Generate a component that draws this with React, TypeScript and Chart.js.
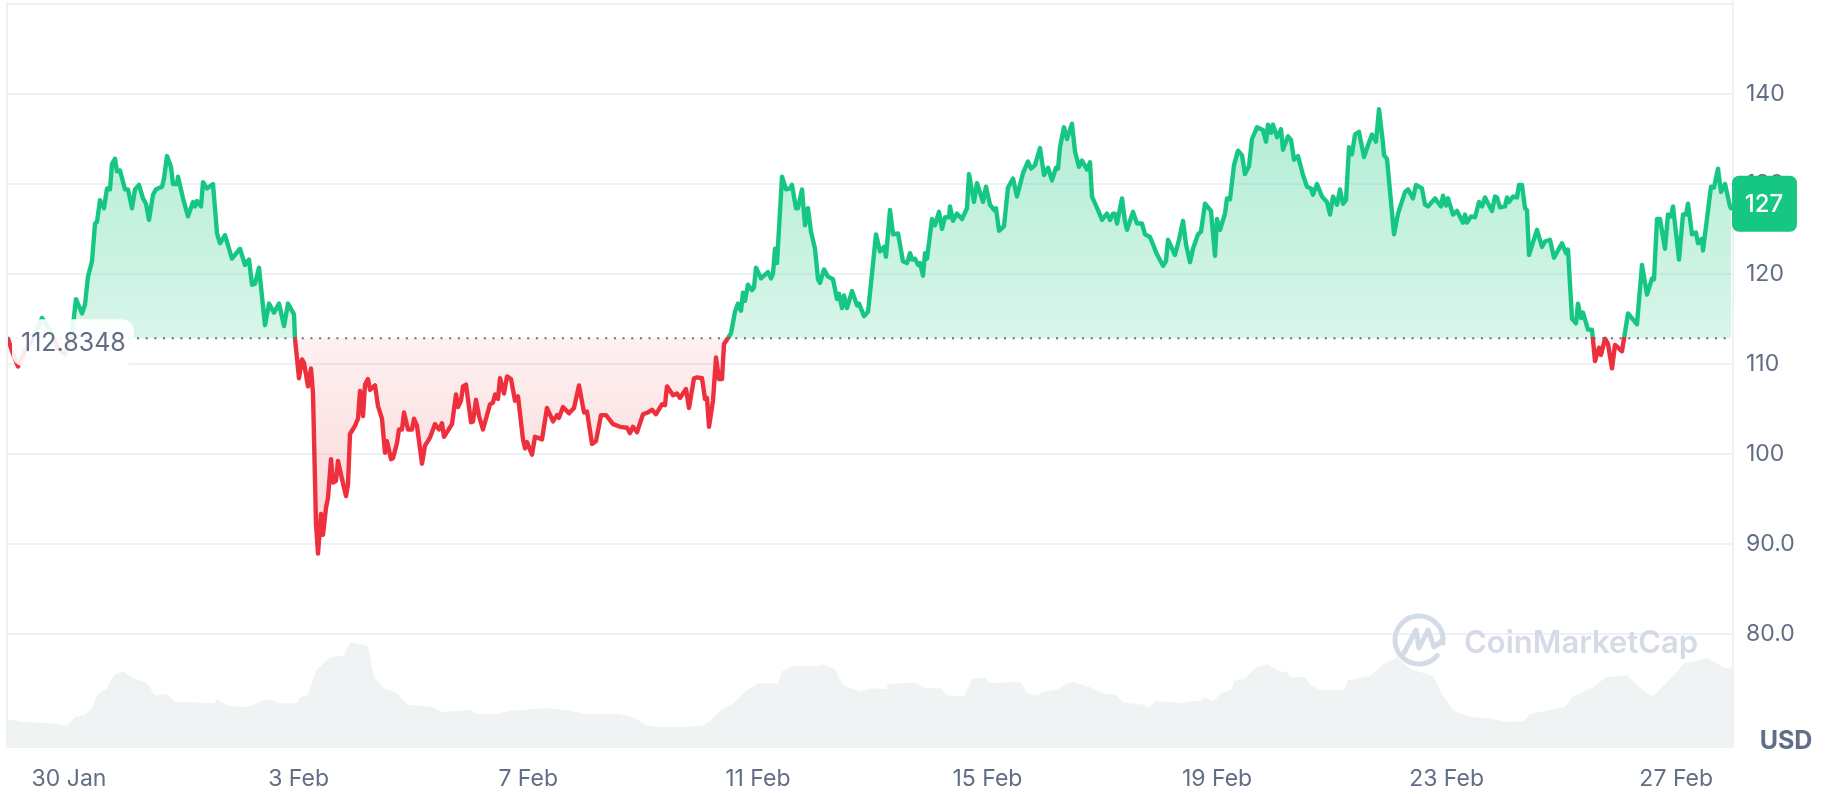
import React, { useEffect, useRef } from "react";
import { Chart, registerables } from "chart.js";

Chart.register(...registerables);

// Time runs in sample steps of about 25 minutes (57.4 steps per day).
const sampleSteps = [
  1, 5, 11, 18, 26, 35, 43, 51, 58, 65, 69, 75, 78, 81, 85, 88, 90, 93, 97, 100, 103, 105, 108, 110, 113, 118, 121, 125, 128, 132, 136, 139, 142, 146, 149, 155, 157, 160, 164, 166, 170, 171, 176, 181, 186, 188, 190, 194, 196, 200, 206, 210, 213, 218, 225, 233, 238, 242, 245, 248, 252, 258, 262, 267, 272, 277, 281, 287, 288,
  292, 295, 297, 301, 304, 306, 309, 311, 314, 316, 319, 321, 324, 326, 329, 331, 335, 339, 341, 343, 348, 351, 353, 356, 358, 361, 363, 368, 371, 375, 378, 380, 384, 386, 390, 392, 395, 397, 401, 405, 407, 410, 415, 418, 423, 428, 432, 435, 437, 445, 449, 451, 454, 456, 459, 464, 466, 469, 472, 476, 483, 486, 488, 491, 493, 497, 500, 504, 508, 511, 516, 518, 520, 525, 528, 535, 540, 546, 550, 552, 556, 562, 567, 572, 577, 580, 585, 589, 594, 599, 606, 613, 620, 623, 626, 630, 636, 641, 645, 649, 655, 658, 660, 666, 670, 673, 679, 682, 687, 690, 695, 698, 700, 702, 706, 709, 712, 715, 717, 720,
  724, 728, 731, 734, 736, 738, 741, 745, 747, 749, 754, 759, 761, 764, 766, 768, 770, 775, 779, 783, 785, 789, 791, 795, 798, 801, 804, 808, 811, 813, 817, 821, 826, 830, 832, 835, 837, 840, 845, 850, 852, 857, 861, 865, 869, 873, 877, 879, 883, 886, 891, 896, 900, 903, 905, 908, 911, 913, 916, 918, 920, 925, 928, 932, 935, 938, 942, 943, 946, 950, 955, 960, 962, 967, 970, 976, 979, 983, 987, 989, 992, 997, 1001, 1006, 1010, 1016, 1021, 1024, 1028, 1033, 1037, 1041, 1045, 1049, 1051, 1053, 1057, 1060, 1065, 1068, 1072, 1075, 1080, 1083, 1085, 1091, 1095, 1100, 1103, 1106, 1108, 1110, 1115, 1118, 1120, 1126, 1130, 1135, 1138, 1143, 1146, 1149, 1156, 1159, 1161, 1168, 1172, 1176, 1179, 1183, 1186, 1191, 1194, 1198, 1204, 1208, 1210, 1213, 1218, 1220, 1223, 1227, 1231, 1235, 1238, 1242, 1245, 1250, 1256, 1259, 1261, 1264, 1266, 1270, 1274, 1276, 1281, 1284, 1287, 1291, 1296, 1300, 1304, 1306, 1310, 1315, 1320, 1323, 1326, 1330, 1333, 1336, 1339, 1342, 1345, 1348, 1352, 1357, 1361, 1365, 1369, 1372, 1376, 1377, 1380, 1387, 1391, 1398, 1401, 1406, 1409, 1415, 1418, 1421, 1428, 1434, 1436, 1439, 1441, 1446, 1450, 1456, 1458, 1460, 1464, 1468, 1472, 1475, 1478, 1485, 1488, 1490, 1493, 1498, 1500, 1502, 1506, 1510, 1512, 1515, 1518, 1520, 1522, 1530, 1535, 1538, 1543, 1547, 1555, 1559, 1561, 1565, 1569, 1571, 1574, 1576, 1581, 1585, 1588, 1592, 1594, 1598, 1601, 1605, 1608, 1615, 1617, 1621, 1630, 1635, 1640, 1645, 1647, 1650, 1653, 1658, 1661, 1664, 1666, 1672, 1676, 1679, 1681, 1685, 1689, 1691, 1695, 1696, 1704, 1707, 1711, 1714, 1718, 1723, 1724,
];

const prices = [
  112.8, 111.4, 109.7, 111.4, 112.8, 115.1, 113.8, 111.7, 111.1, 113.3, 117.2, 115.6, 116.6, 119.7, 121.4, 125.6, 125.8, 128.2, 127.3, 129.5, 129.4, 132.2, 132.8, 131.4, 131.5, 129.4, 129.4, 127.3, 129.4, 129.9, 128.4, 127.8, 126.0, 128.8, 129.4, 129.7, 130.6, 133.1, 131.9, 130.0, 130.0, 130.8, 128.4, 126.4, 128.0, 127.5, 128.1, 127.5, 130.2, 129.5, 130.0, 124.5, 123.4, 124.3, 121.7, 122.8, 121.0, 121.6, 118.8, 118.9, 120.7, 114.3, 116.7, 115.7, 116.7, 114.2, 116.7, 115.5, 112.8,
  108.4, 110.5, 110.1, 107.5, 109.5, 106.7, 92.2, 88.9, 93.3, 91.0, 94.0, 95.1, 99.4, 96.8, 97.0, 99.2, 97.2, 95.3, 96.6, 102.2, 103.1, 103.9, 107.0, 104.2, 107.7, 108.3, 107.1, 107.6, 105.3, 103.9, 100.1, 101.4, 99.4, 99.5, 101.2, 102.7, 102.7, 104.6, 102.7, 102.7, 103.9, 103.1, 98.9, 100.9, 101.8, 103.3, 102.7, 103.4, 101.9, 103.3, 106.6, 105.2, 105.9, 107.5, 107.7, 103.5, 103.6, 106.0, 104.2, 102.7, 105.5, 105.7, 106.6, 106.1, 108.4, 106.7, 108.6, 108.3, 105.9, 106.4, 101.6, 100.6, 101.3, 99.9, 101.9, 101.6, 105.1, 103.6, 104.3, 104.0, 105.2, 104.5, 105.1, 107.6, 104.6, 104.7, 101.1, 101.4, 104.3, 104.3, 103.3, 103.0, 102.9, 102.3, 103.0, 102.4, 104.4, 104.6, 104.9, 104.4, 105.5, 105.4, 107.5, 106.5, 106.7, 106.2, 107.2, 105.1, 108.4, 108.5, 108.4, 106.1, 106.2, 103.0, 105.9, 110.7, 108.3, 108.3, 112.2, 112.7,
  113.4, 115.8, 116.7, 115.9, 117.9, 117.0, 118.8, 118.2, 118.5, 120.7, 119.5, 120.0, 120.2, 119.5, 120.0, 122.8, 121.2, 130.8, 129.4, 129.5, 129.9, 127.3, 127.3, 129.4, 125.4, 127.3, 124.7, 122.8, 119.4, 119.0, 120.5, 119.7, 119.4, 117.2, 117.8, 116.2, 117.6, 116.2, 118.1, 116.5, 116.7, 115.3, 115.8, 120.0, 124.4, 122.5, 123.0, 121.9, 127.1, 124.4, 124.5, 121.4, 121.2, 122.3, 121.6, 121.7, 121.0, 121.2, 119.8, 122.3, 121.7, 126.1, 125.4, 126.9, 125.0, 126.3, 126.3, 127.5, 125.9, 126.7, 126.1, 127.3, 131.1, 128.0, 130.1, 128.0, 129.7, 127.7, 127.1, 127.3, 124.8, 125.3, 129.6, 130.6, 128.6, 131.2, 132.5, 131.7, 132.1, 134.0, 131.0, 131.8, 130.4, 131.8, 131.7, 134.1, 136.3, 135.0, 136.7, 133.6, 131.9, 132.6, 131.6, 132.4, 128.6, 127.1, 126.0, 126.7, 126.0, 126.7, 126.7, 125.6, 128.4, 125.8, 124.9, 126.9, 125.6, 125.6, 124.4, 124.1, 123.3, 122.4, 120.9, 121.4, 123.8, 122.1, 123.8, 125.9, 123.3, 121.3, 122.8, 124.4, 124.7, 127.8, 127.0, 122.0, 126.1, 124.9, 126.7, 128.4, 128.3, 132.1, 133.7, 133.2, 131.1, 132.0, 135.0, 136.3, 136.0, 134.7, 136.6, 135.7, 136.6, 135.2, 136.1, 133.8, 135.3, 134.9, 132.7, 133.1, 131.0, 129.7, 129.5, 128.8, 130.0, 128.6, 128.0, 126.6, 128.6, 127.7, 129.4, 127.8, 128.2, 134.1, 133.3, 135.5, 135.8, 133.0, 134.3, 135.5, 134.7, 138.3, 134.5, 133.2, 132.8, 124.4, 126.7, 129.1, 129.4, 128.4, 129.9, 129.5, 127.7, 127.5, 128.4, 127.5, 128.7, 127.6, 128.4, 126.6, 127.0, 125.7, 126.6, 125.7, 126.4, 126.3, 128.0, 127.5, 128.5, 127.0, 128.6, 128.5, 127.4, 127.5, 128.5, 128.0, 128.6, 128.5, 129.9, 129.9, 127.3, 127.1, 122.1, 124.9, 123.0, 123.6, 123.8, 121.8, 123.4, 122.3, 122.7, 115.0, 114.5, 116.7, 115.1, 115.7, 113.8, 113.8, 110.3, 111.8, 111.0, 112.8, 112.2, 109.5, 112.1, 111.4, 112.8, 115.6, 114.4, 121.0, 117.7, 119.5, 119.4, 126.1, 126.1, 122.8, 126.6, 126.4, 127.5, 121.6, 126.6, 126.6, 127.8, 124.4, 124.6, 123.4, 123.9, 122.6, 129.7, 129.6, 131.7, 129.1, 130.0, 127.5, 127.3,
];

const volumeSteps = [
  0, 15, 38, 51, 60, 68, 78, 85, 90, 100, 107, 116, 125, 140, 148, 160, 169, 183, 207, 210, 221, 239, 250, 259, 266, 270, 290, 293, 301, 309, 323, 337, 343, 361, 367, 377, 390, 401, 426, 435, 464, 470, 489, 502, 538, 564, 578, 611, 625, 640, 651, 681, 697, 704, 714, 726, 740, 751, 771, 775, 785, 812, 816, 828, 836, 853, 865, 879, 881, 908, 918, 934, 940, 957, 965, 979, 981, 993, 999, 1014, 1020, 1028, 1040, 1051, 1059, 1067, 1083, 1095, 1110, 1116, 1138, 1142, 1148, 1169, 1173, 1183, 1193, 1197, 1206, 1214, 1224, 1227, 1238, 1249, 1261, 1273, 1281, 1283, 1298, 1304, 1313, 1337, 1341, 1363, 1375, 1390, 1402, 1426, 1436, 1446, 1463, 1480, 1500, 1516, 1523, 1558, 1565, 1586, 1599, 1620, 1633, 1643, 1647, 1664, 1677, 1701, 1718, 1725,
];

const volumes = [
  28, 25, 24, 23, 21, 30, 32, 39, 52, 59, 72, 76, 70, 64, 52, 53, 45, 45, 44, 48, 41, 40, 44, 48, 47, 44, 44, 50, 52, 77, 90, 92, 105, 101, 70, 59, 54, 42, 40, 35, 37, 33, 33, 36, 39, 36, 33, 33, 30, 22, 20, 20, 22, 27, 37, 44, 57, 64, 64, 76, 81, 81, 83, 78, 62, 56, 59, 58, 63, 65, 59, 59, 52, 51, 68, 70, 65, 64, 65, 65, 54, 52, 56, 58, 64, 65, 60, 54, 52, 45, 42, 39, 46, 45, 44, 46, 46, 50, 46, 54, 57, 66, 69, 80, 83, 76, 75, 70, 70, 62, 57, 57, 67, 71, 82, 90, 79, 71, 52, 37, 30, 29, 25, 26, 33, 40, 50, 60, 70, 72, 60, 52, 52, 69, 84, 89, 79, 80,
];

const dateTickSteps = [62, 291.6, 521.2, 750.8, 980.4, 1210, 1439.6, 1669.2];
const dateTickLabels = ["30 Jan", "3 Feb", "7 Feb", "11 Feb", "15 Feb", "19 Feb", "23 Feb", "27 Feb"];
const priceTickValues = [80, 90, 100, 110, 120, 130, 140, 150];
const priceTickLabels = ["80.0", "90.0", "100", "110", "120", "130", "140", ""];

const BASELINE = 112.8348;
const BASELINE_LABEL = "112.8348";
const BADGE_VALUE = 127.8;
const BADGE_LABEL = "127";
const UNIT_LABEL = "USD";
const WATERMARK = "CoinMarketCap";

const GREEN = "#16c784";
const RED = "#ee2f3e";
const TEXT = "#616e85";
const GRID = "#eff2f5";
const FONT = "Inter";

function roundRect(ctx: CanvasRenderingContext2D, x: number, y: number, w: number, h: number, r: number) {
  ctx.beginPath();
  ctx.roundRect(x, y, w, h, r);
}

const overlay = {
  id: "overlay",
  afterDatasetsDraw(chart: any) {
    const { ctx, chartArea, scales } = chart;
    const yBase = scales.y.getPixelForValue(BASELINE);
    ctx.save();
    // Left frame line
    ctx.strokeStyle = GRID;
    ctx.lineWidth = 2;
    ctx.beginPath();
    ctx.moveTo(chartArea.left, chartArea.top);
    ctx.lineTo(chartArea.left, chartArea.bottom);
    ctx.stroke();

    // Watermark
    ctx.strokeStyle = "#d5dbe6";
    ctx.lineWidth = 5;
    ctx.lineCap = "round";
    ctx.lineJoin = "round";
    const cx = chartArea.right - 314;
    const cy = 640;
    ctx.beginPath();
    ctx.arc(cx, cy, 24, (40 * Math.PI) / 180, (8 * Math.PI) / 180);
    ctx.stroke();
    ctx.beginPath();
    ctx.moveTo(cx - 15, cy + 13);
    ctx.lineTo(cx - 3, cy - 10);
    ctx.lineTo(cx, cy + 8);
    ctx.lineTo(cx + 9, cy - 10);
    ctx.lineTo(cx + 15, cy + 7);
    ctx.lineTo(cx + 24, cy);
    ctx.stroke();
    ctx.fillStyle = "#d5dbe6";
    ctx.font = `600 31px ${FONT}`;
    ctx.textAlign = "left";
    ctx.textBaseline = "middle";
    ctx.fillText(WATERMARK, chartArea.right - 269, 644);

    // Baseline label box
    ctx.fillStyle = "rgba(255,255,255,0.9)";
    roundRect(ctx, chartArea.left + 5, yBase - 19, 122, 47, 12);
    ctx.fill();
    ctx.fillStyle = TEXT;
    ctx.font = `400 25px ${FONT}`;
    ctx.textAlign = "left";
    ctx.textBaseline = "middle";
    ctx.fillText(BASELINE_LABEL, chartArea.left + 14, yBase + 5);
    ctx.restore();
  },
  afterDraw(chart: any) {
    const { ctx, chartArea, scales } = chart;
    ctx.save();
    const yBadge = scales.y.getPixelForValue(BADGE_VALUE);
    ctx.fillStyle = GREEN;
    roundRect(ctx, chartArea.right - 1, yBadge - 28, 65, 56, 7);
    ctx.fill();
    ctx.fillStyle = "#ffffff";
    ctx.font = `500 24px ${FONT}`;
    ctx.textAlign = "center";
    ctx.textBaseline = "middle";
    ctx.fillText(BADGE_LABEL, chartArea.right + 31, yBadge + 1);
    ctx.fillStyle = TEXT;
    ctx.font = `700 25px ${FONT}`;
    ctx.fillText(UNIT_LABEL, chartArea.right + 53, chartArea.bottom - 6);
    ctx.restore();
  },
};

export default function App() {
  const ref = useRef<HTMLCanvasElement | null>(null);

  useEffect(() => {
    const canvas = ref.current;
    if (!canvas) return;
    const chart = new Chart(canvas, {
      type: "line",
      data: {
        datasets: [
          {
            label: "Baseline",
            data: [
              { x: 0, y: BASELINE },
              { x: 1724, y: BASELINE },
            ],
            borderColor: TEXT,
            borderWidth: 2,
            borderDash: [2, 6.67],
            pointRadius: 0,
            fill: false,
            order: 0,
            yAxisID: "y",
          },
          {
            label: "Price",
            data: sampleSteps.map((x, i) => ({ x, y: prices[i] })),
            borderColor: GREEN,
            borderWidth: 4.4,
            borderJoinStyle: "round",
            borderCapStyle: "round",
            tension: 0,
            pointRadius: 0,
            fill: { target: { value: BASELINE }, above: "rgba(22,199,132,0.2)", below: "rgba(234,57,67,0.1)" },
            order: 1,
            yAxisID: "y",
          },
          {
            label: "Volume",
            data: volumeSteps.map((x, i) => ({ x, y: volumes[i] })),
            borderWidth: 0,
            backgroundColor: "#f0f3f4",
            pointRadius: 0,
            tension: 0,
            fill: "origin",
            order: 2,
            yAxisID: "volume",
          },
        ],
      } as any,
      options: {
        responsive: false,
        animation: false,
        devicePixelRatio: 1,
        events: [],
        layout: { padding: { left: 7, top: 0, right: 0, bottom: 0 } },
        plugins: { legend: { display: false }, tooltip: { enabled: false } },
        scales: {
          x: {
            type: "linear",
            min: 0,
            max: 1726,
            afterBuildTicks: (s: any) => {
              s.ticks = dateTickSteps.map((value) => ({ value }));
            },
            afterFit: (s: any) => {
              s.height = 47;
              s.paddingLeft = 0;
              s.paddingRight = 0;
            },
            grid: { display: false },
            border: { display: true, color: GRID, width: 2 },
            ticks: {
              autoSkip: false,
              maxRotation: 0,
              color: TEXT,
              padding: 10,
              font: { family: FONT, size: 23 },
              callback: (v: any) => dateTickLabels[dateTickSteps.indexOf(Number(v))] ?? "",
            },
          },
          y: {
            position: "right",
            min: 67.4,
            max: 150.21,
            afterBuildTicks: (s: any) => {
              s.ticks = priceTickValues.map((value) => ({ value }));
            },
            afterFit: (s: any) => {
              s.width = 101;
              s.paddingTop = 0;
              s.paddingBottom = 0;
            },
            grid: { color: GRID, lineWidth: 2, drawTicks: false },
            border: { display: true, color: GRID, width: 2 },
            ticks: {
              color: TEXT,
              padding: 13,
              font: { family: FONT, size: 23 },
              callback: (v: any) => priceTickLabels[priceTickValues.indexOf(Number(v))] ?? "",
            },
          },
          volume: {
            display: false,
            min: 0,
            max: 747,
          },
        },
      } as any,
      plugins: [overlay],
    });

    const { y } = chart.scales;
    const ctx = canvas.getContext("2d")!;
    const yBase = y.getPixelForValue(BASELINE);
    const height = chart.chartArea.bottom;
    const stop = yBase / height;

    const line = ctx.createLinearGradient(0, 0, 0, height);
    line.addColorStop(0, GREEN);
    line.addColorStop(stop, GREEN);
    line.addColorStop(stop, RED);
    line.addColorStop(1, RED);

    const above = ctx.createLinearGradient(0, y.getPixelForValue(138), 0, yBase);
    above.addColorStop(0, "rgba(22,199,132,0.33)");
    above.addColorStop(1, "rgba(22,199,132,0.17)");

    const below = ctx.createLinearGradient(0, yBase, 0, y.getPixelForValue(89));
    below.addColorStop(0, "rgba(234,57,67,0.07)");
    below.addColorStop(1, "rgba(234,57,67,0.22)");

    const ds = chart.data.datasets[1] as any;
    ds.borderColor = line;
    ds.fill = { target: { value: BASELINE }, above, below };
    chart.update();

    return () => chart.destroy();
  }, []);

  return (
    <div style={{ position: "absolute", left: 0, top: 0, width: 1834, height: 794, overflow: "hidden", background: "#fff" }}>
      <canvas ref={ref} width={1834} height={794} style={{ display: "block", width: 1834, height: 794 }} />
    </div>
  );
}
